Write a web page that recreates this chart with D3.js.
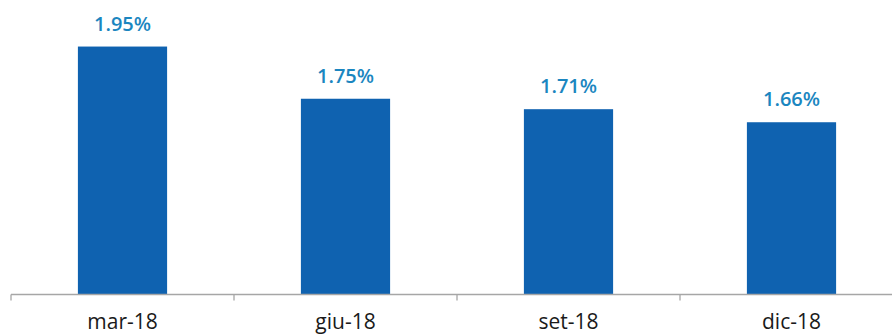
<!DOCTYPE html>
<html><head><meta charset="utf-8">
<script src="https://cdn.jsdelivr.net/npm/d3@7"></script>
<style>html,body{margin:0;padding:0;background:#fff;} svg{display:block;}</style>
</head><body>
<svg id="c" width="892" height="335"></svg>
<script>
const categories = ["mar-18", "giu-18", "set-18", "dic-18"];
const values = [1.95, 1.75, 1.71, 1.66];
const valueLabels = ["1.95%", "1.75%", "1.71%", "1.66%"];

const svg = d3.select("#c");
const baseY = 294.5;
const x = d3.scaleBand().domain(categories).range([11, 903]).paddingInner(0.6).paddingOuter(0.3);
const y = d3.scaleLinear().domain([1, 2]).range([baseY, 33.5]);

svg.selectAll("rect.bar").data(values).enter().append("rect")
  .attr("class", "bar")
  .attr("x", (d, i) => x(categories[i]))
  .attr("y", d => y(d))
  .attr("width", x.bandwidth())
  .attr("height", d => baseY - y(d))
  .attr("fill", "#0f62b0");

svg.selectAll("text.val").data(values).enter().append("text")
  .attr("class", "val")
  .attr("x", (d, i) => x(categories[i]) + x.bandwidth() / 2)
  .attr("y", d => y(d) - 16)
  .attr("text-anchor", "middle")
  .attr("font-family", "'Open Sans', sans-serif")
  .attr("font-weight", 600)
  .attr("font-size", 20)
  .attr("fill", "#1b86c0")
  .text((d, i) => valueLabels[i]);

const axisG = svg.append("g");
axisG.append("line")
  .attr("x1", x.range()[0]).attr("x2", x.range()[1])
  .attr("y1", baseY).attr("y2", baseY)
  .attr("stroke", "#a6a6a6").attr("stroke-width", 1.3);
const step = x.step();
const tickXs = categories.map((c, i) => x.range()[0] + i * step).concat([x.range()[0] + categories.length * step]);
axisG.selectAll("line.tick").data(tickXs).enter().append("line")
  .attr("class", "tick")
  .attr("x1", d => d).attr("x2", d => d)
  .attr("y1", baseY).attr("y2", baseY + 6)
  .attr("stroke", "#a6a6a6").attr("stroke-width", 1.3);
axisG.selectAll("text.cat").data(categories).enter().append("text")
  .attr("class", "cat")
  .attr("x", d => x(d) + x.bandwidth() / 2)
  .attr("y", 329)
  .attr("text-anchor", "middle")
  .attr("font-family", "'Open Sans', sans-serif")
  .attr("font-size", 21)
  .attr("fill", "#1a1a1a")
  .text(d => d);
</script>
</body></html>
